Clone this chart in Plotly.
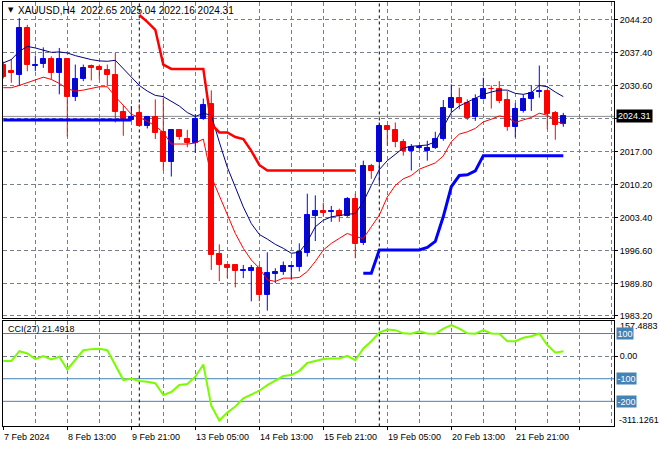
import plotly.graph_objects as go

# ---------------- data ----------------
symbol = "XAUUSD,H4"
session_days = ["7 Feb 2024", "8 Feb 2024", "9 Feb 2024", "12 Feb 2024", "13 Feb 2024", "14 Feb 2024",
                "15 Feb 2024", "16 Feb 2024", "19 Feb 2024", "20 Feb 2024", "21 Feb 2024", "22 Feb 2024"]
session_hours = ["01:00", "05:00", "09:00", "13:00", "17:00", "21:00"]

open_ = [2034.99, 2033.62, 2032.94, 2042.50, 2034.78, 2035.13, 2036.16, 2033.29, 2036.16, 2028.38,
         2031.92, 2034.78, 2034.44, 2033.96, 2032.94, 2025.22, 2023.59, 2025.10, 2022.36, 2024.28,
         2021.01, 2014.99, 2021.54, 2019.64, 2018.82, 2023.73, 2026.80, 1995.89, 1993.70, 1993.70,
         1992.35, 1992.35, 1993.02, 1987.56, 1991.80, 1992.21, 1993.23, 1993.37, 1996.10, 2003.81,
         2004.75, 2004.63, 2004.75, 2003.81, 2007.35, 1998.14, 2014.05, 2014.87, 2022.36, 2021.48,
         2018.96, 2017.24, 2017.73, 2017.24, 2017.73, 2019.64, 2026.12, 2028.17, 2027.15, 2024.28,
         2027.97, 2030.01, 2030.01, 2027.62, 2022.03, 2025.43, 2027.82, 2029.40, 2029.52, 2024.96,
         2022.65]
high = [2035.60, 2036.16, 2044.55, 2043.18, 2036.83, 2038.53, 2036.69, 2038.41, 2036.30, 2034.99,
        2034.99, 2034.99, 2034.99, 2034.99, 2037.38, 2026.60, 2026.45, 2026.80, 2024.40, 2027.82,
        2028.17, 2021.70, 2021.70, 2021.54, 2024.75, 2027.97, 2029.67, 1997.94, 1993.80, 1993.80,
        1993.70, 1993.70, 1993.70, 1996.30, 1993.02, 1994.40, 1993.70, 1998.14, 2008.38, 2008.03,
        2006.54, 2005.86, 2005.31, 2007.70, 2008.38, 2015.19, 2014.52, 2023.05, 2022.50, 2023.05,
        2019.64, 2018.61, 2018.26, 2019.29, 2021.13, 2027.68, 2030.89, 2030.22, 2027.82, 2028.85,
        2032.27, 2030.69, 2031.57, 2029.52, 2027.01, 2028.85, 2030.69, 2034.78, 2029.87, 2025.43,
        2025.04]
low = [2032.12, 2031.24, 2030.69, 2033.62, 2033.62, 2034.31, 2031.92, 2028.85, 2020.19, 2027.48,
       2031.57, 2031.71, 2031.92, 2030.55, 2023.05, 2020.31, 2023.38, 2022.20, 2021.83, 2019.64,
       2013.15, 2011.92, 2019.49, 2017.94, 2016.77, 2023.59, 1992.68, 1990.36, 1990.98, 1989.07,
       1990.98, 1986.21, 1986.21, 1984.28, 1989.95, 1991.65, 1990.63, 1992.35, 1995.42, 1998.61,
       2003.61, 2002.58, 2002.58, 2003.61, 1995.07, 1997.79, 2011.45, 2010.42, 2018.26, 2017.94,
       2016.22, 2013.15, 2017.59, 2015.19, 2017.59, 2019.29, 2025.10, 2025.78, 2023.59, 2023.38,
       2027.82, 2025.92, 2027.01, 2021.34, 2019.98, 2025.10, 2025.43, 2028.17, 2021.68, 2019.49,
       2022.16]
close = [2032.47, 2033.29, 2042.50, 2034.99, 2034.99, 2036.16, 2033.29, 2036.16, 2028.38, 2032.06,
         2034.31, 2034.31, 2033.82, 2032.94, 2025.22, 2023.73, 2024.28, 2022.36, 2024.28, 2020.86,
         2014.99, 2021.54, 2019.98, 2018.82, 2023.73, 2026.60, 1995.75, 1993.64, 1993.17, 1992.35,
         1992.62, 1993.02, 1987.56, 1991.94, 1992.21, 1993.58, 1993.50, 1996.30, 2004.08, 2004.75,
         2004.49, 2004.75, 2003.81, 2007.35, 1997.94, 2014.05, 2013.15, 2022.36, 2021.54, 2018.96,
         2017.24, 2017.94, 2018.06, 2017.79, 2019.64, 2026.12, 2028.17, 2027.15, 2024.08, 2027.97,
         2030.01, 2029.87, 2027.48, 2022.03, 2025.92, 2027.82, 2029.20, 2029.52, 2024.75, 2022.56,
         2024.31]

ma_upper = [2035.34, 2036.01, 2037.71, 2038.73, 2038.41, 2037.92, 2037.51, 2037.59, 2037.38, 2036.83,
            2036.36, 2036.01, 2035.75, 2035.66, 2035.87, 2034.11, 2032.47, 2030.69, 2029.52, 2028.64,
            2028.38, 2027.48, 2026.45, 2025.10, 2024.28, 2024.96, 2024.55, 2019.02, 2013.84, 2009.75,
            2005.65, 2002.23, 1999.98, 1999.02, 1997.94, 1997.12, 1996.10, 1996.30, 1998.49, 2001.56,
            2002.91, 2003.61, 2003.94, 2004.14, 2004.28, 2006.68, 2010.08, 2013.35, 2015.19, 2016.57,
            2017.79, 2018.14, 2018.26, 2018.41, 2019.08, 2022.03, 2025.10, 2026.45, 2027.27, 2027.97,
            2028.85, 2029.32, 2029.73, 2029.73, 2029.05, 2028.85, 2029.20, 2030.69, 2030.42, 2029.32,
            2028.38]
ma_lower = [2030.22, 2030.22, 2030.69, 2031.24, 2031.77, 2032.39, 2031.92, 2031.10, 2030.01, 2029.52,
            2029.73, 2030.01, 2030.42, 2030.42, 2028.38, 2026.60, 2024.75, 2024.08, 2023.32, 2022.30,
            2021.01, 2018.61, 2018.61, 2018.61, 2018.82, 2019.64, 2011.86, 2008.03, 2003.94, 2000.19,
            1997.12, 1994.72, 1993.02, 1990.63, 1990.30, 1990.98, 1990.98, 1991.12, 1992.35, 1994.40,
            1996.77, 1998.14, 1999.17, 2000.19, 1999.51, 1999.17, 2001.56, 2003.94, 2007.70, 2010.08,
            2011.45, 2012.12, 2013.43, 2014.11, 2014.72, 2016.16, 2019.08, 2020.66, 2021.13, 2021.83,
            2023.18, 2023.73, 2024.41, 2024.08, 2023.05, 2023.59, 2024.08, 2024.96, 2024.55, 2023.38,
            2022.71]
stop_down = [None, None, None, None, None, None, None, None, None, None,
             None, None, None, None, None, None, None, 2045.20, 2043.80, 2042.15,
             2034.99, 2034.10, 2034.10, 2034.10, 2034.10, 2034.10, 2022.71, 2021.01, 2021.00, 2020.05,
             2019.64, 2017.20, 2014.31, 2013.15, 2013.15, 2013.15, 2013.15, 2013.15, 2013.15, 2013.15,
             2013.15, 2013.15, 2013.15, 2013.15, 2013.15, None, None, None, None, None,
             None, None, None, None, None, None, None, None, None, None,
             None, None, None, None, None, None, None, None, None, None,
             None]
stop_up = [2023.59, 2023.59, 2023.59, 2023.59, 2023.59, 2023.59, 2023.59, 2023.59, 2023.59, 2023.59,
           2023.59, 2023.59, 2023.59, 2023.59, 2023.59, 2023.59, 2023.59, None, None, None,
           None, None, None, None, None, None, None, None, None, None,
           None, None, None, None, None, None, None, None, None, None,
           None, None, None, None, None, 1992.00, 1992.00, 1996.77, 1996.77, 1996.77,
           1996.77, 1996.77, 1996.77, 1997.32, 1998.55, 2003.67, 2009.81, 2012.12, 2012.27, 2013.09,
           2016.22, 2016.22, 2016.22, 2016.22, 2016.22, 2016.22, 2016.22, 2016.22, 2016.22, 2016.22,
           2016.22]
cci = [-22, -22, 22, 12, -13, 0, -15, -3, -59, -18,
       26, 31, 33, 26, -40, -106, -100, -110, -113, -120,
       -172, -159, -128, -123, -91, -37, -220, -285, -250, -223,
       -187, -169, -153, -128, -109, -88, -84, -65, -30, -22,
       -13, -10, -10, 1, -18, 34, 66, 104, 118, 115,
       101, 99, 110, 100, 99, 122, 137, 122, 101, 99,
       115, 100, 99, 66, 66, 81, 88, 100, 49, 15,
       21.4918]
cci_period = 27
cci_levels = [100, -100, -200]
cci_range = [-311.1261, 157.4883]

price_ticks = [2044.20, 2037.40, 2030.60, 2023.80, 2017.00, 2010.20, 2003.40, 1996.60, 1989.80, 1983.20]
price_range = [1982.79, 2047.885]

# ---------------- derived bar times ----------------
times = [(d, h) for d in session_days for h in session_hours][1:72]
n = len(close)
xs = list(range(n))
label_bars = xs[::8]
time_labels = []
for k in label_bars:
    d, h = times[k]
    time_labels.append(d if k == 0 else d.replace(" 2024", "") + " " + h)
week_starts = [k for k in xs[1:] if times[k][0] != times[k - 1][0]
               and int(times[k][0].split()[0]) - int(times[k - 1][0].split()[0]) > 1]

# ---------------- styling ----------------
FONT = "Liberation Sans"
GRID = "#76808c"
DASH = "4px,3px"
BULL_FILL, BULL_LINE = "#0c0ca8", "#0000ff"
BEAR_FILL, BEAR_LINE = "#ff0000", "#ff0000"
W, H = 660, 450
L_PX, R_PX = 3, 614
MAIN_TOP, MAIN_BOT = 2, 320
CCI_TOP, CCI_BOT = 322.7, 429.3
px_per_bar = 8.0
x0_px = 3.3
xr0 = -(x0_px - L_PX) / px_per_bar
xr1 = xr0 + (R_PX - L_PX) / px_per_bar


def py(px):
    return 1 - px / H


fig = go.Figure()

# wicks
for sel, col in ((lambda i: close[i] >= open_[i], BULL_LINE), (lambda i: close[i] < open_[i], BEAR_LINE)):
    wx, wy = [], []
    for i in xs:
        if sel(i):
            wx += [i, i, None]
            wy += [low[i], high[i], None]
    fig.add_trace(go.Scatter(x=wx, y=wy, mode="lines", line=dict(color=col, width=1),
                             xaxis="x", yaxis="y", hoverinfo="skip"))

# bodies
for sel, fill, line in ((lambda i: close[i] >= open_[i], BULL_FILL, BULL_LINE),
                        (lambda i: close[i] < open_[i], BEAR_FILL, BEAR_LINE)):
    ids = [i for i in xs if sel(i)]
    fig.add_trace(go.Bar(x=ids,
                         y=[max(abs(close[i] - open_[i]), 0.15) for i in ids],
                         base=[min(open_[i], close[i]) for i in ids],
                         width=0.56, marker=dict(color=fill, line=dict(color=line, width=1)),
                         xaxis="x", yaxis="y", hoverinfo="skip"))

# indicator lines
fig.add_trace(go.Scatter(x=xs, y=ma_upper, mode="lines", line=dict(color="#000080", width=1),
                         xaxis="x", yaxis="y"))
fig.add_trace(go.Scatter(x=xs, y=ma_lower, mode="lines", line=dict(color="#ff0000", width=1),
                         xaxis="x", yaxis="y"))
fig.add_trace(go.Scatter(x=xs, y=stop_down, mode="lines", line=dict(color="#ff0000", width=2.5),
                         connectgaps=False, xaxis="x", yaxis="y"))
fig.add_trace(go.Scatter(x=xs, y=stop_up, mode="lines", line=dict(color="#0000ff", width=3),
                         connectgaps=False, xaxis="x", yaxis="y"))

# CCI
fig.add_trace(go.Scatter(x=xs, y=cci, mode="lines", line=dict(color="#7cfc00", width=2),
                         xaxis="x2", yaxis="y2"))

shapes = []
# current price line
shapes.append(dict(type="line", xref="x domain", x0=0, x1=1, yref="y", y0=close[-1], y1=close[-1],
                   line=dict(color="#8c8c8c", width=1), layer="below"))
# CCI level lines
for lv in cci_levels:
    shapes.append(dict(type="line", xref="x2 domain", x0=0, x1=1, yref="y2", y0=lv, y1=lv,
                       line=dict(color="#4682b4", width=1), layer="below"))
# week separators
for k in week_starts:
    shapes.append(dict(type="line", xref="x", x0=k, x1=k, yref="paper", y0=py(CCI_BOT), y1=py(MAIN_TOP),
                       line=dict(color="black", width=1, dash="3px,3px"), layer="below"))

ann = []
lab_font = dict(family=FONT, size=9, color="black")
# title
ann.append(dict(xref="paper", yref="paper", x=5.5 / W, y=py(10.5), xanchor="left", yanchor="middle",
                text="▼", showarrow=False, font=dict(family="DejaVu Sans", size=7, color="black")))
ann.append(dict(xref="paper", yref="paper", x=16 / W, y=py(10.5), xanchor="left", yanchor="middle",
                text=symbol + "\u00a0\u00a0" + " ".join(f"{v:.2f}" for v in (open_[-1], high[-1], low[-1], close[-1])),
                showarrow=False, font=dict(family=FONT, size=10, color="black")))
# current price box
ann.append(dict(xref="paper", yref="y", x=(R_PX + 1.5) / W, y=close[-1], xanchor="left", yanchor="middle",
                text=f"{close[-1]:.2f}", showarrow=False, bgcolor="black", borderpad=1,
                font=dict(family=FONT, size=9, color="white")))
# CCI label
ann.append(dict(xref="paper", yref="paper", x=6 / W, y=py(331.5), xanchor="left", yanchor="middle",
                text=f"CCI({cci_period}) {cci[-1]:.4f}", showarrow=False, font=lab_font))
# CCI scale labels
ann.append(dict(xref="paper", yref="paper", x=(R_PX + 4) / W, y=py(328.5), xanchor="left", yanchor="middle",
                text=f"{cci_range[1]:.4f}", showarrow=False, font=lab_font))
ann.append(dict(xref="paper", yref="paper", x=(R_PX + 3) / W, y=py(423), xanchor="left", yanchor="middle",
                text=f"{cci_range[0]:.4f}", showarrow=False, font=lab_font))
for lv in cci_levels:
    ann.append(dict(xref="paper", yref="y2", x=(R_PX + 1.5) / W, y=lv, xanchor="left", yanchor="middle",
                    text=str(lv), showarrow=False, bgcolor="#4682b4", borderpad=0.5,
                    font=dict(family=FONT, size=9, color="white")))
# time labels
for k, t in zip(label_bars, time_labels):
    ann.append(dict(xref="x2", yref="paper", x=k, y=py(440), xanchor="left", yanchor="middle",
                    text=t, showarrow=False, xshift=-1.5, font=lab_font))

axis_common = dict(showline=True, linecolor="black", linewidth=1, mirror=True, zeroline=False,
                   gridcolor=GRID, griddash=DASH, gridwidth=1)

fig.update_layout(
    width=W, height=H, margin=dict(l=0, r=0, t=0, b=0),
    paper_bgcolor="white", plot_bgcolor="white", showlegend=False,
    barmode="overlay", bargap=0, hovermode=False,
    font=dict(family=FONT, size=9, color="black"),
    xaxis=dict(domain=[L_PX / W, R_PX / W], range=[xr0, xr1], anchor="y",
               tickmode="linear", tick0=0, dtick=4, showgrid=True, showticklabels=False, ticks="",
               **axis_common),
    yaxis=dict(domain=[py(MAIN_BOT), py(MAIN_TOP)], range=price_range, anchor="x", side="right",
               tickmode="array", tickvals=price_ticks,
               ticktext=["" if abs(v - close[-1]) < 1.0 else f"{v:.2f}" for v in price_ticks],
               ticks="outside", ticklen=3, tickcolor="black", showgrid=True,
               tickfont=lab_font, **axis_common),
    xaxis2=dict(domain=[L_PX / W, R_PX / W], range=[xr0, xr1], anchor="y2", matches="x",
                tickmode="linear", tick0=0, dtick=8, ticks="outside", ticklen=3, tickcolor="black",
                showticklabels=False, showgrid=True,
                minor=dict(tick0=0, dtick=4, showgrid=True, gridcolor=GRID, griddash=DASH, ticks=""),
                **axis_common),
    yaxis2=dict(domain=[py(CCI_BOT), py(CCI_TOP)], range=cci_range, anchor="x2", side="right",
                tickmode="array", tickvals=[0], ticktext=["0.00"], ticks="outside", ticklen=3,
                tickcolor="black", showgrid=True, tickfont=lab_font, **axis_common),
    shapes=shapes, annotations=ann,
)

fig.write_html("out.html", config={"displayModeBar": False},
               post_script="document.body.style.margin='0';document.body.style.overflow='hidden';")
